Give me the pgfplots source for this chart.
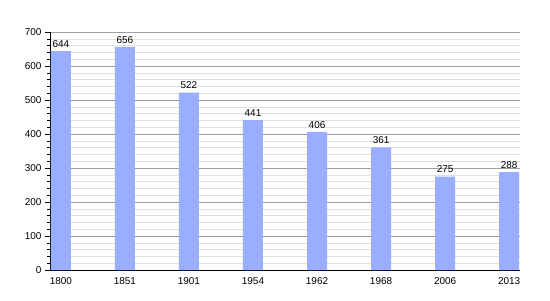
\documentclass[border=0pt]{standalone}
\usepackage{pgfplots}
\pgfplotsset{compat=1.18}
\usepackage{fontspec}
\setmainfont{Liberation Sans}
\definecolor{barblue}{HTML}{99AEFF}
\begin{document}
\begin{tikzpicture}[x=1bp,y=1bp]
\path (0,0) rectangle (550,300);
\begin{axis}[
  at={(50bp,30bp)}, anchor=south west,
  scale only axis, width=470bp, height=238bp,
  ymin=0, ymax=700,
  xmin=-0.17, xmax=7.17,
  xtick=data,
  xticklabels={1800,1851,1901,1954,1962,1968,2006,2013},
  ytick={0,100,...,700},
  minor y tick num=4,
  axis x line*=bottom, axis y line*=left,
  axis line style={black, line width=0.8pt, -},
  ymajorgrids, yminorgrids,
  major grid style={draw=gray!75, line width=0.5pt},
  minor grid style={draw=gray!25, line width=0.5pt},
  xtick style={draw=none},
  ytick style={black, line width=0.5pt},
  tick align=outside,
  major tick length=5bp, minor tick length=3bp,
  ticklabel style={font=\fontsize{10}{11}\selectfont},
  xticklabel style={yshift=1bp},
  /pgf/number format/assume math mode=true,
  ybar, bar width=20bp,
  nodes near coords,
  every node near coord/.append style={font=\fontsize{10}{11}\selectfont, black, inner sep=1bp, yshift=2.5bp},
  clip=false,
]
\addplot[fill=barblue, draw=none] coordinates {(0,644) (1,656) (2,522) (3,441) (4,406) (5,361) (6,275) (7,288)};
\end{axis}
\end{tikzpicture}
\end{document}
